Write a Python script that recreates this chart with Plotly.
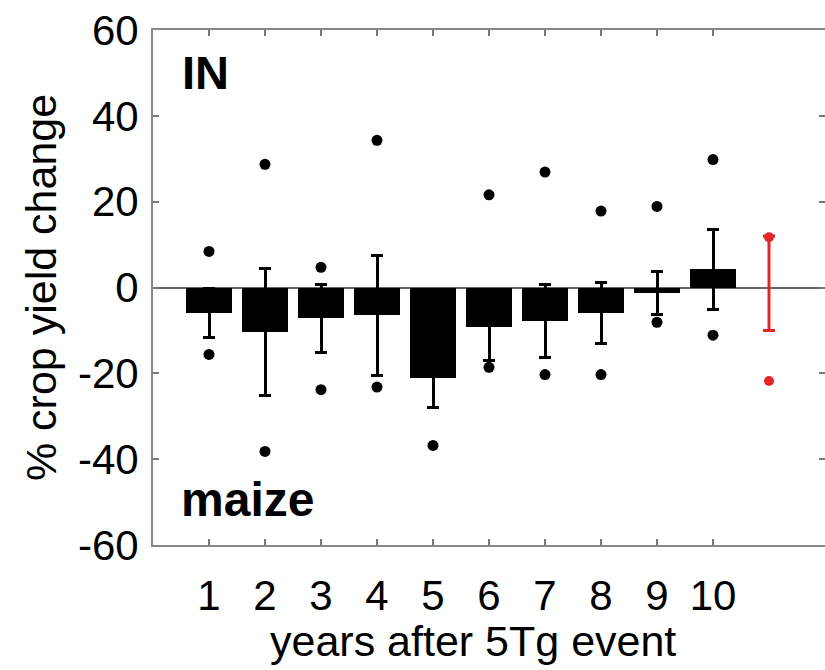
import plotly.graph_objects as go

# ---- data ----
years = [1, 2, 3, 4, 5, 6, 7, 8, 9, 10]
mean_change = [-6.0, -10.3, -7.2, -6.5, -21.0, -9.3, -7.8, -6.0, -1.3, 4.2]
std_change = [5.7, 14.8, 8.0, 13.9, 7.0, 7.7, 8.6, 7.1, 5.0, 9.3]
max_change = [8.4, 28.7, 4.7, 34.3, -14.0, 21.6, 26.9, 17.8, 18.9, 29.8]
min_change = [-15.6, -38.2, -23.8, -23.2, -36.8, -18.6, -20.3, -20.3, -8.1, -11.1]

obs_x = [11]
obs_center = [1.0]
obs_err = [11.0]
obs_extremes = [11.7, -21.8]

tick_years = [1, 2, 3, 4, 5, 6, 7, 8, 9, 10]
y_ticks = [-60, -40, -20, 0, 20, 40, 60]

FONT = "Liberation Sans, Arial, Helvetica, sans-serif"
RED = "#e3262b"

fig = go.Figure()

fig.add_trace(go.Bar(
    x=years, y=mean_change, width=0.83,
    marker=dict(color="black", line=dict(width=0)),
    error_y=dict(type="data", array=std_change, visible=True,
                 color="black", thickness=3, width=6),
    showlegend=False, hoverinfo="skip",
))

fig.add_trace(go.Scatter(
    x=years + years, y=max_change + min_change, mode="markers",
    marker=dict(color="black", size=11),
    showlegend=False, hoverinfo="skip",
))

fig.add_trace(go.Scatter(
    x=obs_x, y=obs_center, mode="markers",
    marker=dict(color=RED, size=1, opacity=0),
    error_y=dict(type="data", array=obs_err, visible=True,
                 color=RED, thickness=3, width=6),
    showlegend=False, hoverinfo="skip",
))

fig.add_trace(go.Scatter(
    x=obs_x * len(obs_extremes), y=obs_extremes, mode="markers",
    marker=dict(color=RED, size=10),
    showlegend=False, hoverinfo="skip",
))

fig.add_annotation(x=0.48, y=50.0, xref="x", yref="y", text="<b>IN</b>",
                   showarrow=False, xanchor="left", yanchor="middle",
                   font=dict(family=FONT, size=47, color="black"))
fig.add_annotation(x=0.47, y=-49.5, xref="x", yref="y", text="<b>maize</b>",
                   showarrow=False, xanchor="left", yanchor="middle",
                   font=dict(family=FONT, size=48, color="black"))
fig.add_annotation(x=0.476, y=-0.186, xref="paper", yref="paper",
                   text="years after 5Tg event",
                   showarrow=False, xanchor="center", yanchor="middle",
                   font=dict(family=FONT, size=43, color="black"))

fig.update_layout(
    width=825, height=670,
    margin=dict(l=153, r=0, t=30, b=125),
    paper_bgcolor="white", plot_bgcolor="white",
    font=dict(family=FONT, color="black"),
    bargap=0,
)

fig.update_xaxes(
    range=[0, 12], tickvals=tick_years, ticktext=[str(t) for t in tick_years],
    ticks="inside", ticklen=6, tickcolor="#777", tickwidth=1.5,
    showline=True, linecolor="#888", linewidth=2, mirror="ticks",
    showgrid=False, zeroline=False, automargin=False,
    ticklabelstandoff=13,
    tickfont=dict(family=FONT, size=42, color="black"),
)

fig.update_yaxes(
    range=[-60, 60], tickvals=y_ticks, ticktext=[str(t) for t in y_ticks],
    ticks="inside", ticklen=6, tickcolor="#777", tickwidth=1.5,
    showline=True, linecolor="#888", linewidth=2, mirror="ticks",
    showgrid=False, zeroline=True, zerolinecolor="#666", zerolinewidth=1.5,
    automargin=False, ticklabelstandoff=4,
    tickfont=dict(family=FONT, size=42, color="black"),
    title=dict(text="% crop yield change", standoff=8,
               font=dict(family=FONT, size=43, color="black")),
)

fig.write_html(
    "out.html",
    config={"displayModeBar": False},
    post_script="document.body.style.margin='0px';document.body.style.overflow='hidden';",
)
